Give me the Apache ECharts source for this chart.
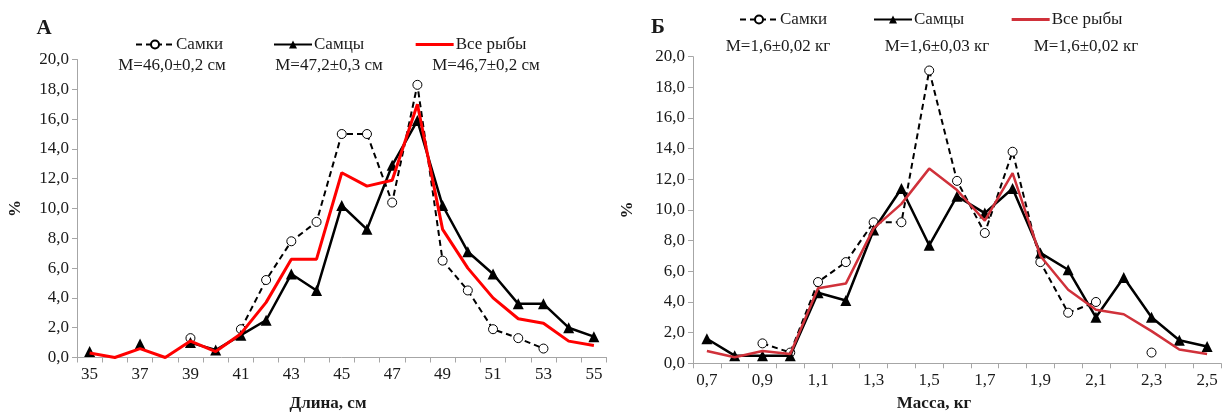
<!DOCTYPE html>
<html><head><meta charset="utf-8">
<script src="https://cdn.jsdelivr.net/npm/echarts@6/dist/echarts.min.js"></script>
<style>html,body{margin:0;padding:0;background:#fff}#c{width:1226px;height:416px}</style>
</head><body><div id="c"></div>
<script>
// ---- Panel A: length distribution ----
const lengthCats = ['35','36','37','38','39','40','41','42','43','44','45','46','47','48','49','50','51','52','53','54','55'];
const femaleLen = [null,null,null,null,1.3,null,1.9,5.2,7.8,9.1,15.0,15.0,10.4,18.3,6.5,4.5,1.9,1.3,0.6,null,null];
const maleLen   = [0.4,null,0.9,null,1.0,0.5,1.5,2.5,5.6,4.5,10.2,8.6,12.9,15.9,10.2,7.1,5.6,3.6,3.6,2.0,1.4];
const allLen    = [0.3,0,0.6,0,1.1,0.4,1.6,3.7,6.6,6.6,12.4,11.5,11.9,17.0,8.6,6.0,4.0,2.6,2.3,1.1,0.8];
// ---- Panel B: mass distribution ----
const massCats = ['0,7','0,8','0,9','1,0','1,1','1,2','1,3','1,4','1,5','1,6','1,7','1,8','1,9','2,0','2,1','2,2','2,3','2,4','2,5'];
const femaleMass = [null,null,1.3,0.7,5.3,6.6,9.2,9.2,19.1,11.9,8.5,13.8,6.6,3.3,4.0,null,0.7,null,null];
const maleMass   = [1.6,0.5,0.5,0.5,4.6,4.1,8.7,11.4,7.7,10.9,9.8,11.4,7.2,6.1,3.0,5.6,3.0,1.5,1.1];
const allMass    = [0.8,0.4,0.8,0.6,4.9,5.2,8.8,10.4,12.7,11.3,9.3,12.4,7.0,4.8,3.5,3.2,2.1,0.9,0.6];
const yTicks = [0,20,2];
const seriesNames = ['Самки','Самцы','Все рыбы'];
const meansA = ['M=46,0±0,2 см','M=47,2±0,3 см','M=46,7±0,2 см'];
const meansB = ['M=1,6±0,02 кг','M=1,6±0,03 кг','M=1,6±0,02 кг'];

const FONT = 'Liberation Serif';
const AX = '#a6a6a6';
const RED_A = '#ff0000', RED_B = '#d0313a';
const fmt = v => v.toFixed(1).replace('.', ',');

function xAxis(idx, cats){
  return {gridIndex: idx, type:'category', data: cats, boundaryGap: true,
    axisLine:{lineStyle:{color:AX, width:1}},
    axisTick:{show:true, interval:0, length:5, lineStyle:{color:AX}},
    axisLabel:{interval:1, color:'#1a1a1a', fontFamily:FONT, fontSize:17, margin:9},
    splitLine:{show:false}};
}
function yAxis(idx, gap){
  return {gridIndex: idx, type:'value', min:yTicks[0], max:yTicks[1], interval:yTicks[2],
    name:'%', nameLocation:'middle', nameRotate:90, nameGap:gap,
    nameTextStyle:{fontFamily:FONT, fontSize:17, fontWeight:'bold', color:'#1a1a1a'},
    axisLine:{show:true, lineStyle:{color:AX, width:1}},
    axisTick:{show:true, length:5, lineStyle:{color:AX}},
    axisLabel:{formatter:fmt, color:'#1a1a1a', fontFamily:FONT, fontSize:17, margin:8},
    splitLine:{show:false}};
}
function mk(idx, names, data, red){
  return [
    {name:names[0], type:'line', xAxisIndex:idx, yAxisIndex:idx, data:data[0], connectNulls:false,
      symbol:'circle', symbolSize:9, showAllSymbol:true,
      itemStyle:{color:'#fff', borderColor:'#000', borderWidth:1},
      lineStyle:{color:'#000', width:2, type:[6,4]}, z:2},
    {name:names[1], type:'line', xAxisIndex:idx, yAxisIndex:idx, data:data[1], connectNulls:false,
      symbol:'triangle', symbolSize:11, showAllSymbol:true,
      itemStyle:{color:'#000'}, lineStyle:{color:'#000', width:2.5}, z:3},
    {name:names[2], type:'line', xAxisIndex:idx, yAxisIndex:idx, data:data[2],
      symbol:'none', itemStyle:{color:red}, lineStyle:{color:red, width:idx===0?3:2.5}, z:4}
  ];
}
function legend(left, top, gap, red){
  return {left:left, top:top, itemGap:gap, itemWidth:38, itemHeight:10,
    textStyle:{fontFamily:FONT, fontSize:17, color:'#1a1a1a', padding:[0,0,0,-3]},
    selectedMode:false,
    data:[
      {name:seriesNames[0]},
      {name:seriesNames[1]},
      {name:seriesNames[2], itemStyle:{color:red, opacity:0, borderWidth:0}, lineStyle:{color:red, width:3, opacity:1}}
    ]};
}
function txt(x, y, s, opts){
  return {type:'text', x:x, y:y, style:Object.assign({text:s, font:'17px "'+FONT+'"', fill:'#1a1a1a', textAlign:'center', textVerticalAlign:'middle'}, opts||{})};
}

const chart = echarts.init(document.getElementById('c'), null, {renderer:'canvas'});
chart.setOption({
  backgroundColor:'#fff',
  animation:false,
  grid:[
    {left:77, top:59.5, width:529.5, height:298},
    {left:693, top:56.7, width:528, height:306.6}
  ],
  xAxis:[xAxis(0, lengthCats), xAxis(1, massCats)],
  yAxis:[yAxis(0, 53), yAxis(1, 57)],
  legend:[legend(130, 31, 50, RED_A), legend(734, 6, 46, RED_B)],
  series:[].concat(
    mk(0, seriesNames, [femaleLen, maleLen, allLen], RED_A),
    mk(1, seriesNames, [femaleMass, maleMass, allMass], RED_B)
  ),
  graphic:[
    txt(44, 29, 'А', {font:'bold 21px "'+FONT+'"'}),
    txt(658, 28, 'Б', {font:'bold 21px "'+FONT+'"'}),
    txt(172, 66, meansA[0]), txt(329, 66, meansA[1]), txt(486, 66, meansA[2]),
    txt(778, 47, meansB[0]), txt(937, 47, meansB[1]), txt(1086, 47, meansB[2]),
    txt(328, 404, 'Длина, см', {font:'bold 17px "'+FONT+'"'}),
    txt(934, 404, 'Масса, кг', {font:'bold 17px "'+FONT+'"'})
  ]
});
</script></body></html>
